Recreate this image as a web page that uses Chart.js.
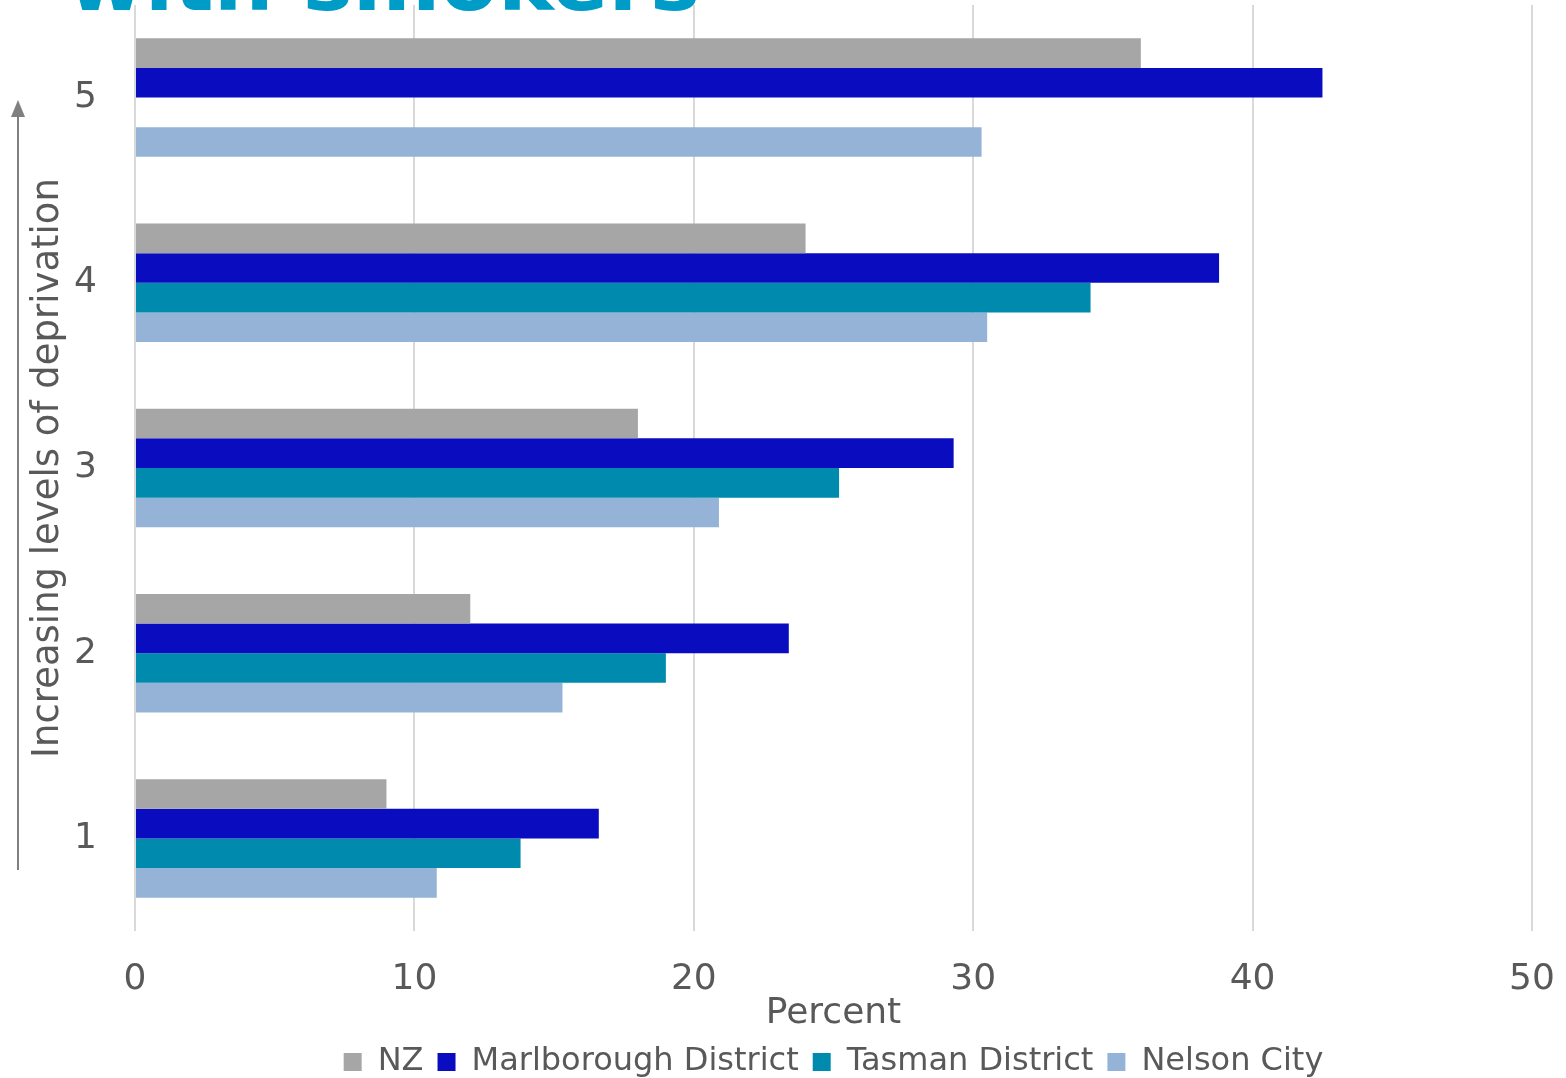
<!DOCTYPE html>
<html>
<head>
<meta charset="utf-8">
<script src="https://cdn.jsdelivr.net/npm/chart.js@4.4.1/dist/chart.umd.min.js"></script>
<style>
  html, body { margin: 0; padding: 0; background: #fff; }
  #wrap { width: 1566px; height: 1078px; }
</style>
</head>
<body>
<div id="wrap"><canvas id="chart"></canvas></div>
<script>
// Deprivation quintiles, drawn with 5 at the top
const quintiles = ['5', '4', '3', '2', '1'];

// Percent of people living with smokers, by quintile (same order as above)
const nzValues = [36.0, 24.0, 18.0, 12.0, 9.0];
const marlboroughValues = [42.5, 38.8, 29.3, 23.4, 16.6];
const tasmanValues = [null, 34.2, 25.2, 19.0, 13.8];
const nelsonValues = [30.3, 30.5, 20.9, 15.3, 10.8];

const xTicks = [0, 10, 20, 30, 40, 50];

const textGrey = '#595959';
const baseFont = 'DejaVu Sans, Verdana, sans-serif';

// Heading text that sits above the plot and the arrow beside the axis title
const decorations = {
  id: 'decorations',
  afterDraw(chart) {
    const c = chart.ctx;
    c.save();
    c.fillStyle = '#009cc8';
    c.font = 'bold 84px ' + baseFont;
    c.textAlign = 'right';
    c.textBaseline = 'alphabetic';
    c.fillText('with smokers', 700, 10);

    c.strokeStyle = '#808080';
    c.fillStyle = '#808080';
    c.lineWidth = 2;
    c.beginPath();
    c.moveTo(18, 870);
    c.lineTo(18, 112);
    c.stroke();
    c.beginPath();
    c.moveTo(18, 100);
    c.lineTo(11, 117);
    c.lineTo(25, 117);
    c.closePath();
    c.fill();
    c.restore();
  }
};

new Chart(document.getElementById('chart'), {
  type: 'bar',
  data: {
    labels: quintiles,
    datasets: [
      { label: 'NZ', data: nzValues, backgroundColor: '#a6a6a6' },
      { label: 'Marlborough District', data: marlboroughValues, backgroundColor: '#0a0dbf' },
      { label: 'Tasman District', data: tasmanValues, backgroundColor: '#008aad' },
      { label: 'Nelson City', data: nelsonValues, backgroundColor: '#95b3d7' }
    ]
  },
  options: {
    indexAxis: 'y',
    responsive: true,
    maintainAspectRatio: false,
    animation: false,
    datasets: {
      bar: { categoryPercentage: 0.64, barPercentage: 1.0 }
    },
    layout: { padding: { left: 0, right: 34, top: 5, bottom: -10 } },
    plugins: {
      legend: {
        position: 'bottom',
        fullSize: false,
        labels: {
          color: textGrey,
          font: { family: baseFont, size: 32 },
          boxWidth: 18,
          boxHeight: 18,
          padding: 14
        }
      },
      title: { display: false },
      tooltip: { enabled: false }
    },
    scales: {
      x: {
        min: 0,
        max: 50,
        afterBuildTicks(scale) {
          scale.ticks = xTicks.map(v => ({ value: v }));
        },
        afterFit(scale) {
          // keep end labels from pushing the plot inwards
          scale.paddingLeft = 0;
          scale.paddingRight = 0;
          scale.height = 101;
        },
        grid: { color: '#d9d9d9', lineWidth: 2, drawTicks: false },
        border: { display: false },
        ticks: {
          color: textGrey,
          font: { family: baseFont, size: 36 },
          padding: 27
        },
        title: {
          display: true,
          text: 'Percent',
          color: textGrey,
          font: { family: baseFont, size: 36 },
          padding: { top: 0, bottom: -3 }
        }
      },
      y: {
        afterFit(scale) {
          scale.width = 135;
          scale.paddingTop = 0;
          scale.paddingBottom = 0;
        },
        grid: { display: false, drawTicks: false },
        border: { display: false },
        ticks: {
          color: textGrey,
          font: { family: baseFont, size: 36 },
          padding: 38
        },
        title: {
          display: true,
          text: 'Increasing levels of deprivation',
          color: textGrey,
          font: { family: baseFont, size: 37 },
          padding: { top: 26, bottom: 0 }
        }
      }
    }
  },
  plugins: [decorations]
});
</script>
</body>
</html>
